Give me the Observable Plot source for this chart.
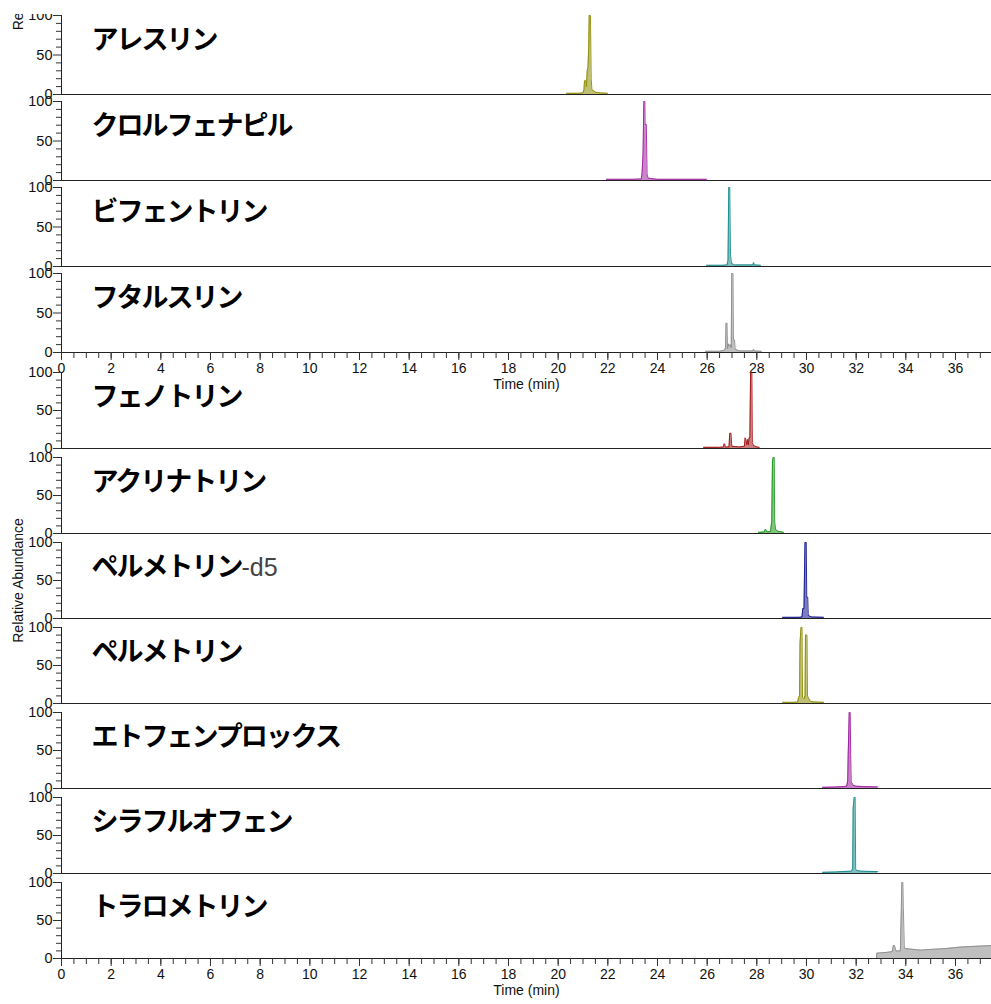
<!DOCTYPE html>
<html><head><meta charset="utf-8">
<script src="https://cdn.jsdelivr.net/npm/d3@7"></script>
<script src="https://cdn.jsdelivr.net/npm/@observablehq/plot@0.6"></script>
<style>
html,body{margin:0;padding:0;background:#fff;overflow:hidden;}
#wrap{position:relative;width:991px;height:1004px;background:#fff;}
#top{position:absolute;left:0;top:14px;width:991px;overflow:hidden;}
#bottom{position:absolute;left:0;top:360px;width:991px;}
</style></head><body><div id="wrap"><div id="top"></div><div id="bottom"></div></div>
<script>
// ---- categories ----
const topNames = ["アレスリン", "クロルフェナピル", "ビフェントリン", "フタルスリン"];
const bottomNames = ["フェノトリン", "アクリナトリン", "ペルメトリン-d5", "ペルメトリン", "エトフェンプロックス", "シラフルオフェン", "トラロメトリン"];
const colorNames = ["アレスリン", "クロルフェナピル", "ビフェントリン", "フタルスリン", "フェノトリン", "アクリナトリン", "ペルメトリン-d5", "ペルメトリン", "エトフェンプロックス", "シラフルオフェン", "トラロメトリン"];
const colorValues = ["#8a8a00", "#a0209f", "#168a8a", "#8a8a8a", "#a01212", "#1a961a", "#12128a", "#8a8a00", "#9a1a9a", "#168a8a", "#8a8a8a"];

// ---- tick labels ----
const xMajorTicks = [0, 2, 4, 6, 8, 10, 12, 14, 16, 18, 20, 22, 24, 26, 28, 30, 32, 34, 36];
const yLabelTicks = [0, 50, 100];
const yMinorTicks = [10, 20, 30, 40, 60, 70, 80, 90];
const xDomain = [0, 37.45];

// ---- series: [time (min), relative abundance] ----
const allethrin = [[20.34,1.5],[20.8,1.5],[21.0,2],[21.04,6],[21.06,17],[21.1,18],[21.14,10],[21.17,30],[21.2,34],[21.23,60],[21.25,100],[21.3,100],[21.33,20],[21.36,6],[21.42,5],[21.5,3],[21.7,2],[21.99,1.5]];
const chlorfenapyr = [[21.95,1.5],[23.0,1.5],[23.35,2],[23.38,10],[23.42,35],[23.45,100],[23.49,100],[23.5,71],[23.55,71],[23.58,8],[23.62,3],[24.0,1.5],[25.98,1.5]];
const bifenthrin = [[25.98,1.5],[26.6,1.5],[26.8,2],[26.84,8],[26.87,100],[26.91,100],[26.94,15],[26.98,4],[27.1,2],[27.84,2],[27.87,5],[27.9,2],[28.15,1.5]];
const phthalthrin = [[25.94,1.5],[26.5,1.5],[26.7,3],[26.74,6],[26.76,37],[26.8,37],[26.82,5],[26.86,11],[26.9,8],[26.94,10],[26.97,6],[26.99,100],[27.04,100],[27.06,16],[27.1,16],[27.13,4],[27.3,2],[27.84,2],[27.87,4],[27.9,2],[28.19,1.5]];
const phenothrin = [[25.86,1.5],[26.5,1.5],[26.66,2],[26.68,6],[26.71,6],[26.73,2],[26.88,2],[26.91,20],[26.96,20],[26.99,3],[27.3,2],[27.5,3],[27.53,14],[27.56,12],[27.6,5],[27.63,12],[27.66,5],[27.69,14],[27.72,14],[27.75,100],[27.8,100],[27.82,8],[27.86,4],[28.0,2],[28.1,1.5]];
const acrinathrin = [[28.07,1.5],[28.3,2],[28.33,5],[28.37,5],[28.4,2],[28.55,2.5],[28.6,16],[28.63,95],[28.66,100],[28.7,100],[28.72,15],[28.76,5],[28.85,3],[29.08,1.5]];
const permethrinD5 = [[29.04,1.5],[29.7,1.5],[29.82,2],[29.85,13],[29.9,13],[29.92,60],[29.94,100],[29.99,100],[30.01,28],[30.05,28],[30.07,4],[30.2,2],[30.69,1.5]];
const permethrin = [[29.04,1.5],[29.5,1.5],[29.65,2],[29.68,8],[29.72,10],[29.74,80],[29.78,100],[29.82,100],[29.84,8],[29.9,6],[29.94,10],[29.96,90],[30.02,90],[30.04,10],[30.1,6],[30.16,3],[30.3,2],[30.69,1.5]];
const etofenprox = [[30.65,1.5],[31.2,2],[31.5,2.5],[31.62,3],[31.66,10],[31.68,45],[31.72,100],[31.76,100],[31.78,45],[31.8,8],[31.84,7],[31.88,4],[32.0,3],[32.3,2.5],[32.87,2]];
const silafluofen = [[30.65,1.5],[31.2,2],[31.4,2.5],[31.8,3],[31.86,6],[31.88,86],[31.92,100],[31.96,100],[31.98,6],[32.02,4],[32.2,3],[32.87,2.5]];
const tralomethrin = [[32.82,0],[32.83,7],[33.2,8],[33.45,9],[33.5,17],[33.55,17],[33.6,10],[33.78,10],[33.82,67],[33.84,100],[33.88,100],[33.9,67],[33.94,14],[34.0,13],[34.6,11],[35.0,12],[35.6,13],[36.2,15],[36.8,16],[37.45,17]];

const topTraces = [allethrin, chlorfenapyr, bifenthrin, phthalthrin];
const bottomTraces = [phenothrin, acrinathrin, permethrinD5, permethrin, etofenprox, silafluofen, tralomethrin];

const xMinorTicks = d3.range(0, 37.5, 0.5);

function makeChart(names, traces, o) {
  const rows = names.flatMap((name, i) => traces[i].map(([t, v]) => ({name, t, v})));
  const last = names[names.length - 1];
  return Plot.plot({
    width: 991,
    height: o.height,
    marginLeft: 61,
    marginRight: 0,
    marginTop: o.marginTop,
    marginBottom: o.marginBottom,
    style: {background: o.background, fontFamily: "'Liberation Sans', Arial, sans-serif", fontSize: "14px", color: "#111", overflow: "hidden"},
    x: {domain: xDomain},
    y: {domain: [0, 100]},
    fy: {domain: names, paddingInner: o.paddingInner, paddingOuter: 0, axis: null, label: null},
    color: {domain: colorNames, range: colorValues},
    marks: [
      Plot.ruleX([0], {stroke: "#222"}),
      Plot.areaY(rows, {x: "t", y: "v", fy: "name", fill: "name", fillOpacity: 0.55}),
      Plot.lineY(rows, {x: "t", y: "v", fy: "name", stroke: "name", strokeWidth: 1, strokeOpacity: 0.9}),
      Plot.ruleY([0], {stroke: "#222"}),
      Plot.axisY({ticks: yMinorTicks, tickSize: 5, tickFormat: () => "", label: null, stroke: "#333"}),
      Plot.axisY({ticks: yLabelTicks, tickSize: 8, tickPadding: 1, label: null, stroke: "#333", fontSize: 14.5}),
      Plot.axisX({ticks: xMinorTicks, tickSize: 6, tickFormat: () => "", label: null, stroke: "#333"}),
      Plot.axisX({ticks: xMajorTicks, tickSize: 8, tickPadding: 3, label: null, stroke: "#333", fontSize: 14}),
      Plot.text(names, {fy: d => d, text: d => d, frameAnchor: "top-left", dx: 30, dy: 25, textAnchor: "start", lineAnchor: "middle", fontSize: 27, fontWeight: "bold", fontFamily: "'Noto Sans CJK JP', sans-serif", fill: "#000"}),
      Plot.text(["Time (min)"], {fy: () => last, frameAnchor: "bottom", dy: 36, fontSize: 14, fill: "#111"}),
      Plot.text(["Relative Abundance"], {fy: () => o.yLabelPanel, frameAnchor: "left", textAnchor: "middle", rotate: -90, dx: -43, dy: o.yLabelDy, fontSize: 14, fill: "#111"})
    ]
  });
}

const topChart = makeChart(topNames, topTraces, {height: 388, marginTop: 1, marginBottom: 50, paddingInner: 7 / 86, background: "white", yLabelPanel: "アレスリン", yLabelDy: -87});
const bottomChart = makeChart(bottomNames, bottomTraces, {height: 644, marginTop: 9, marginBottom: 44, paddingInner: 0.109, background: "transparent", yLabelPanel: "ペルメトリン-d5", yLabelDy: 0});

document.getElementById("top").appendChild(topChart);
document.getElementById("bottom").appendChild(bottomChart);

const allNames = topNames.concat(bottomNames);
[topChart, bottomChart].forEach(svg => {
  d3.select(svg).selectAll("text").each(function() {
    const s = this.textContent;
    if (allNames.includes(s)) {
      d3.select(this).style("letter-spacing", "-2px");
    }
    if (s === "ペルメトリン-d5") {
      const t = d3.select(this);
      t.text(null);
      t.append("tspan").text("ペルメトリン");
      t.append("tspan").attr("font-weight", "normal").attr("font-family", "'Liberation Sans', Arial, sans-serif").attr("font-size", 25).attr("fill", "#444").style("letter-spacing", "0px").text("-d5");
    }
  });
});
</script></body></html>
